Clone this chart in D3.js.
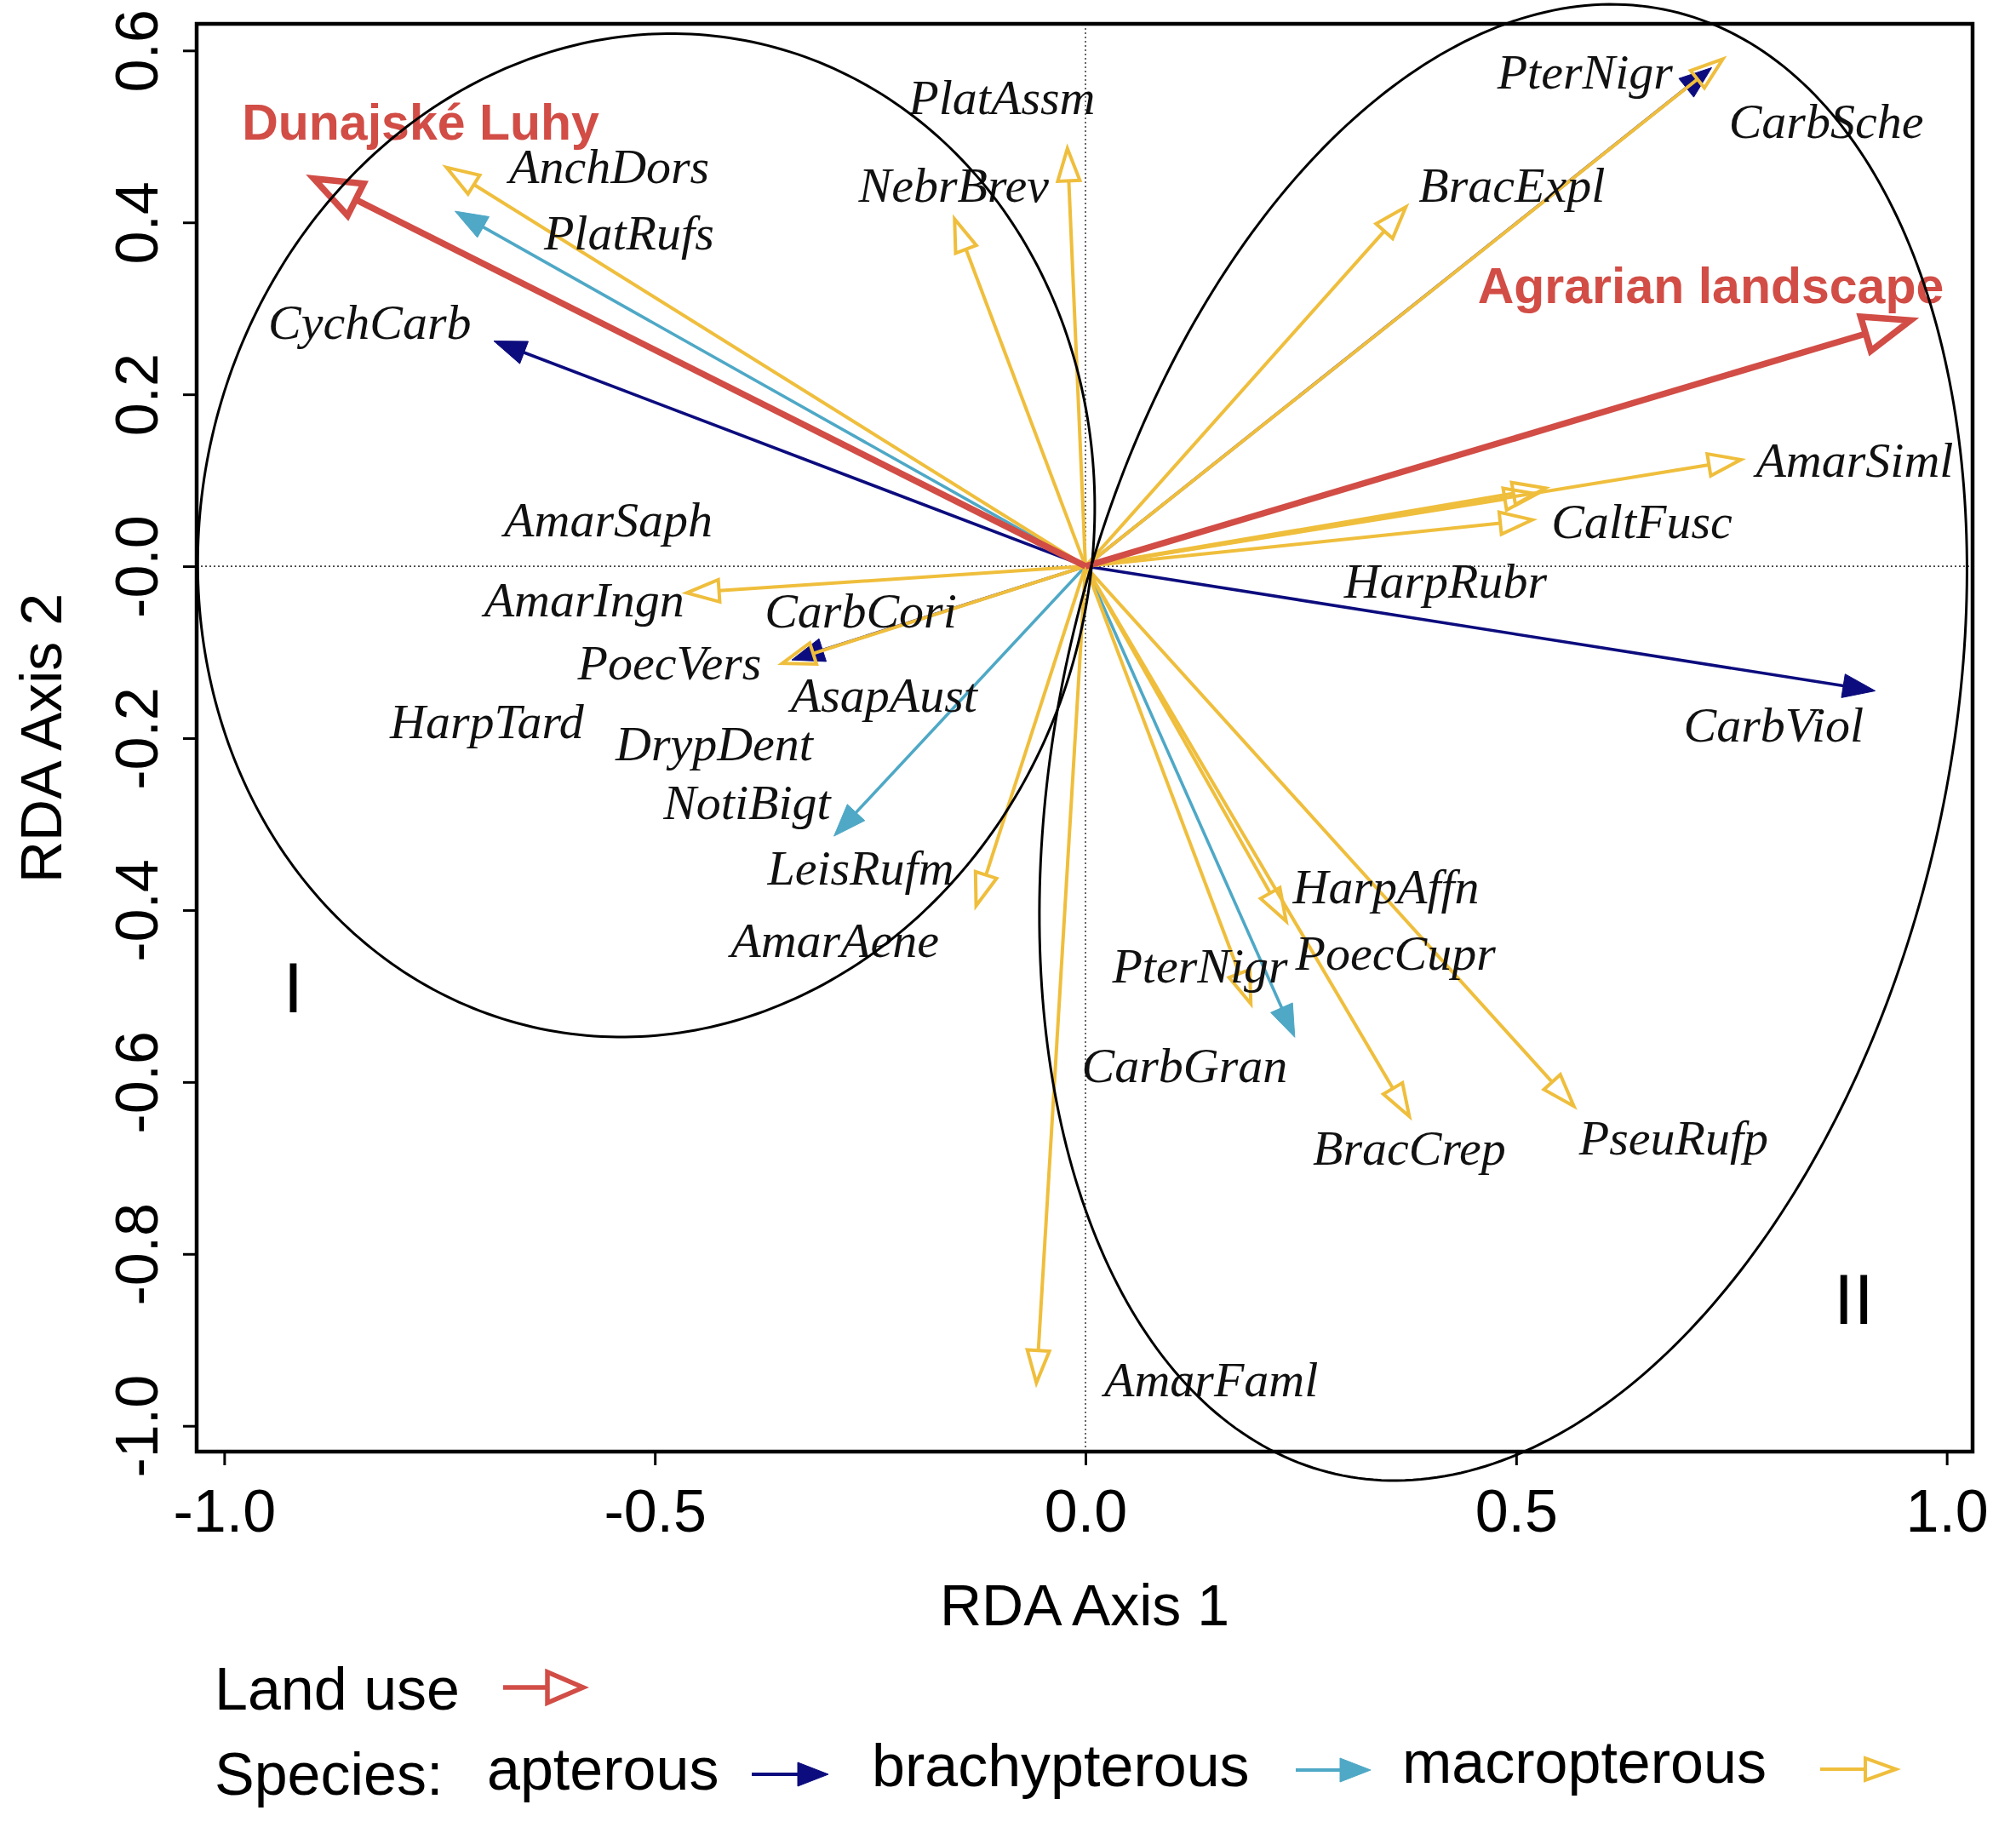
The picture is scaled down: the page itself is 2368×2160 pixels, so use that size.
<!DOCTYPE html>
<html>
<head>
<meta charset="utf-8">
<script src="https://cdn.jsdelivr.net/npm/d3@7"></script>
<style>
  html, body { margin: 0; padding: 0; background: #fff; }
  svg { display: block; }
</style>
</head>
<body>
<svg id="chart" width="2368" height="2160"></svg>
<script>
// land use vectors (RDA axis 1, RDA axis 2)
const landUseNames = ["Dunajské Luhy", "Agrarian landscape"];
const landUseX = [-0.896, 0.958];
const landUseY = [0.451, 0.286];
const landUseLabelX = [-0.772, 0.726];
const landUseLabelY = [0.517, 0.327];

// species vectors, grouped by wing type
const speciesWing = [
  "apterous", "apterous", "apterous", "apterous",
  "brachypterous", "brachypterous", "brachypterous",
  "macropterous", "macropterous", "macropterous", "macropterous", "macropterous",
  "macropterous", "macropterous", "macropterous", "macropterous", "macropterous",
  "macropterous", "macropterous", "macropterous", "macropterous", "macropterous",
  "macropterous", "macropterous"
];
const speciesX = [
  -0.687, 0.917, 0.727, -0.341,
  -0.732, -0.292, 0.243,
  -0.742, -0.152, -0.021, 0.372, 0.740,
  0.761, 0.534, 0.524, 0.519, -0.463,
  -0.352, -0.127, -0.057, 0.192, 0.233,
  0.376, 0.567
];
const speciesY = [
  0.262, -0.145, 0.580, -0.109,
  0.413, -0.314, -0.548,
  0.464, 0.404, 0.486, 0.418, 0.590,
  0.124, 0.091, 0.084, 0.054, -0.031,
  -0.113, -0.395, -0.950, -0.509, -0.413,
  -0.640, -0.628
];

// species labels
const labelNames = [
  "PlatAssm", "AnchDors", "NebrBrev", "PlatRufs", "CychCarb", "AmarSaph",
  "AmarIngn", "CarbCori", "PoecVers", "AsapAust", "HarpTard", "DrypDent",
  "NotiBigt", "LeisRufm", "AmarAene", "PterNigr", "CarbSche", "BracExpl",
  "AmarSiml", "CaltFusc", "HarpRubr", "CarbViol", "HarpAffn", "PoecCupr",
  "PterNigr", "CarbGran", "BracCrep", "PseuRufp", "AmarFaml"
];
const labelX = [
  -0.097, -0.553, -0.153, -0.530, -0.831, -0.554,
  -0.582, -0.261, -0.483, -0.234, -0.695, -0.431,
  -0.393, -0.261, -0.291, 0.580, 0.860, 0.495,
  0.893, 0.646, 0.418, 0.799, 0.349, 0.360,
  0.133, 0.115, 0.376, 0.683, 0.146
];
const labelY = [
  0.544, 0.464, 0.442, 0.387, 0.283, 0.053,
  -0.040, -0.053, -0.113, -0.151, -0.182, -0.207,
  -0.276, -0.352, -0.436, 0.574, 0.517, 0.442,
  0.122, 0.051, -0.018, -0.186, -0.374, -0.451,
  -0.466, -0.582, -0.678, -0.666, -0.947
];

// group ellipses
const ellipseNames = ["I", "II"];
const ellipseCx = [-0.510, 0.485];
const ellipseCy = [0.036, -0.205];
const ellipseA = [0.587, 0.873];
const ellipseB = [0.517, 0.515];
const ellipseTilt = [13, 12.9];
const ellipseLabelX = [-0.920, 0.892];
const ellipseLabelY = [-0.489, -0.851];

const xTicks = [-1.0, -0.5, 0.0, 0.5, 1.0];
const xTickLabels = ["-1.0", "-0.5", "0.0", "0.5", "1.0"];
const yTicks = [-1.0, -0.8, -0.6, -0.4, -0.2, 0.0, 0.2, 0.4, 0.6];
const yTickLabels = ["-1.0", "-0.8", "-0.6", "-0.4", "-0.2", "-0.0", "0.2", "0.4", "0.6"];

const COLORS = {
  land: "#d14d46",
  apterous: "#0c0c7e",
  brachypterous: "#4ea8c6",
  macropterous: "#efbe3c"
};
const SANS = "'Liberation Sans', Arial, Helvetica, sans-serif";
const SERIF = "'Liberation Serif', 'Times New Roman', serif";

const svg = d3.select("#chart");
const x = d3.scaleLinear().domain([-1.032, 1.030]).range([231, 2317]);
const y = d3.scaleLinear().domain([-1.030, 0.631]).range([1705, 28]);

// open arrow heads are outlined triangles, filled ones are solid
function drawArrow(g, x0, y0, x1, y1, color, lw, len, half, filled) {
  const ang = Math.atan2(y1 - y0, x1 - x0);
  const bx = x1 - len * Math.cos(ang), by = y1 - len * Math.sin(ang);
  const px = -Math.sin(ang) * half, py = Math.cos(ang) * half;
  g.append("line")
    .attr("x1", x0).attr("y1", y0)
    .attr("x2", filled ? bx + (x1 - bx) * 0.3 : bx)
    .attr("y2", filled ? by + (y1 - by) * 0.3 : by)
    .attr("stroke", color).attr("stroke-width", lw);
  g.append("path")
    .attr("d", `M${x1},${y1}L${bx + px},${by + py}L${bx - px},${by - py}Z`)
    .attr("fill", filled ? color : "none")
    .attr("stroke", color)
    .attr("stroke-width", filled ? 1 : lw)
    .attr("stroke-linejoin", "miter");
}

// zero lines
svg.append("line")
  .attr("x1", x.range()[0]).attr("x2", x.range()[1])
  .attr("y1", y(0)).attr("y2", y(0))
  .attr("stroke", "#444").attr("stroke-width", 1.6).attr("stroke-dasharray", "2,3");
svg.append("line")
  .attr("x1", x(0)).attr("x2", x(0))
  .attr("y1", y.range()[0]).attr("y2", y.range()[1])
  .attr("stroke", "#444").attr("stroke-width", 1.6).attr("stroke-dasharray", "2,3");

// species arrows: apterous, then brachypterous, then macropterous on top
const arrows = svg.append("g");
const order = ["apterous", "brachypterous", "macropterous"];
order.forEach(w => {
  speciesWing.forEach((sw, i) => {
    if (sw !== w) return;
    drawArrow(arrows, x(0), y(0), x(speciesX[i]), y(speciesY[i]),
      COLORS[w], w === "macropterous" ? 4 : 3.6, 38, w === "macropterous" ? 13 : 14, w !== "macropterous");
  });
});

// land use arrows
landUseNames.forEach((n, i) => {
  drawArrow(arrows, x(0), y(0), x(landUseX[i]), y(landUseY[i]),
    COLORS.land, 7.5, 55, 21, false);
});

// species labels
svg.append("g")
  .selectAll("text")
  .data(labelNames)
  .join("text")
  .attr("x", (d, i) => x(labelX[i]))
  .attr("y", (d, i) => y(labelY[i]))
  .attr("dy", "0.32em")
  .attr("text-anchor", "middle")
  .attr("font-family", SERIF)
  .attr("font-style", "italic")
  .attr("font-size", 58)
  .attr("fill", "#111")
  .text(d => d);

// land use labels
svg.append("g")
  .selectAll("text")
  .data(landUseNames)
  .join("text")
  .attr("x", (d, i) => x(landUseLabelX[i]))
  .attr("y", (d, i) => y(landUseLabelY[i]))
  .attr("dy", "0.36em")
  .attr("text-anchor", "middle")
  .attr("font-family", SANS)
  .attr("font-weight", "bold")
  .attr("font-size", 59)
  .attr("fill", COLORS.land)
  .text(d => d);

// ellipses drawn over everything inside the plot
const ellipseLine = d3.line().x(p => x(p[0])).y(p => y(p[1])).curve(d3.curveLinearClosed);
ellipseNames.forEach((n, i) => {
  const t = ellipseTilt[i] * Math.PI / 180;
  const pts = d3.range(0, 360, 1).map(k => {
    const s = k * Math.PI / 180;
    const ca = ellipseA[i] * Math.cos(s), sb = ellipseB[i] * Math.sin(s);
    return [ellipseCx[i] + ca * Math.sin(t) + sb * Math.cos(t),
            ellipseCy[i] + ca * Math.cos(t) - sb * Math.sin(t)];
  });
  svg.append("path")
    .attr("d", ellipseLine(pts))
    .attr("fill", "none")
    .attr("stroke", "#000")
    .attr("stroke-width", 3);
  svg.append("text")
    .attr("x", x(ellipseLabelX[i]))
    .attr("y", y(ellipseLabelY[i]))
    .attr("dy", "0.36em")
    .attr("text-anchor", "middle")
    .attr("font-family", SANS)
    .attr("font-size", 84)
    .attr("fill", "#000")
    .text(n);
});

// box
svg.append("rect")
  .attr("x", x.range()[0]).attr("y", y.range()[1])
  .attr("width", x.range()[1] - x.range()[0])
  .attr("height", y.range()[0] - y.range()[1])
  .attr("fill", "none").attr("stroke", "#000").attr("stroke-width", 4.5);

// axes
const xAxis = svg.append("g")
  .attr("transform", `translate(0,${y.range()[0]})`)
  .call(d3.axisBottom(x).tickValues(xTicks).tickSize(16)
    .tickFormat((d, i) => xTickLabels[i]));
xAxis.select(".domain").remove();
xAxis.selectAll(".tick line").attr("stroke-width", 3);
xAxis.selectAll(".tick text")
  .attr("y", 94).attr("dy", 0)
  .attr("font-family", SANS).attr("font-size", 70).attr("fill", "#000");

const yAxis = svg.append("g")
  .attr("transform", `translate(${x.range()[0]},0)`)
  .call(d3.axisLeft(y).tickValues(yTicks).tickSize(16)
    .tickFormat((d, i) => yTickLabels[i]));
yAxis.select(".domain").remove();
yAxis.selectAll(".tick line").attr("stroke-width", 3);
yAxis.selectAll(".tick text")
  .attr("x", 0).attr("dy", 0)
  .attr("transform", "translate(-46,0) rotate(-90)")
  .attr("text-anchor", "middle")
  .attr("font-family", SANS).attr("font-size", 70).attr("fill", "#000");

// axis titles
svg.append("text")
  .attr("x", (x.range()[0] + x.range()[1]) / 2).attr("y", 1909)
  .attr("text-anchor", "middle")
  .attr("font-family", SANS).attr("font-size", 68)
  .text("RDA Axis 1");
svg.append("text")
  .attr("transform", "translate(72,867) rotate(-90)")
  .attr("text-anchor", "middle")
  .attr("font-family", SANS).attr("font-size", 68)
  .text("RDA Axis 2");

// legend
const legend = svg.append("g").attr("font-family", SANS).attr("font-size", 70).attr("fill", "#000");
legend.append("text").attr("x", 252).attr("y", 2008).text("Land use");
drawArrow(legend, 591, 1982, 685, 1982, COLORS.land, 5.5, 42, 18, false);
legend.append("text").attr("x", 252).attr("y", 2108).text("Species:");
const legendText = [[572, 2102], [1024, 2098], [1647, 2094]];
const legendArrow = [[883, 973, 2084], [1522, 1610, 2079], [2138, 2227, 2078]];
const wingTypes = ["apterous", "brachypterous", "macropterous"];
wingTypes.forEach((w, i) => {
  legend.append("text").attr("x", legendText[i][0]).attr("y", legendText[i][1]).text(w);
  drawArrow(legend, legendArrow[i][0], legendArrow[i][2], legendArrow[i][1], legendArrow[i][2],
    COLORS[w], 4, 36, w === "macropterous" ? 13 : 14, w !== "macropterous");
});
</script>
</body>
</html>
